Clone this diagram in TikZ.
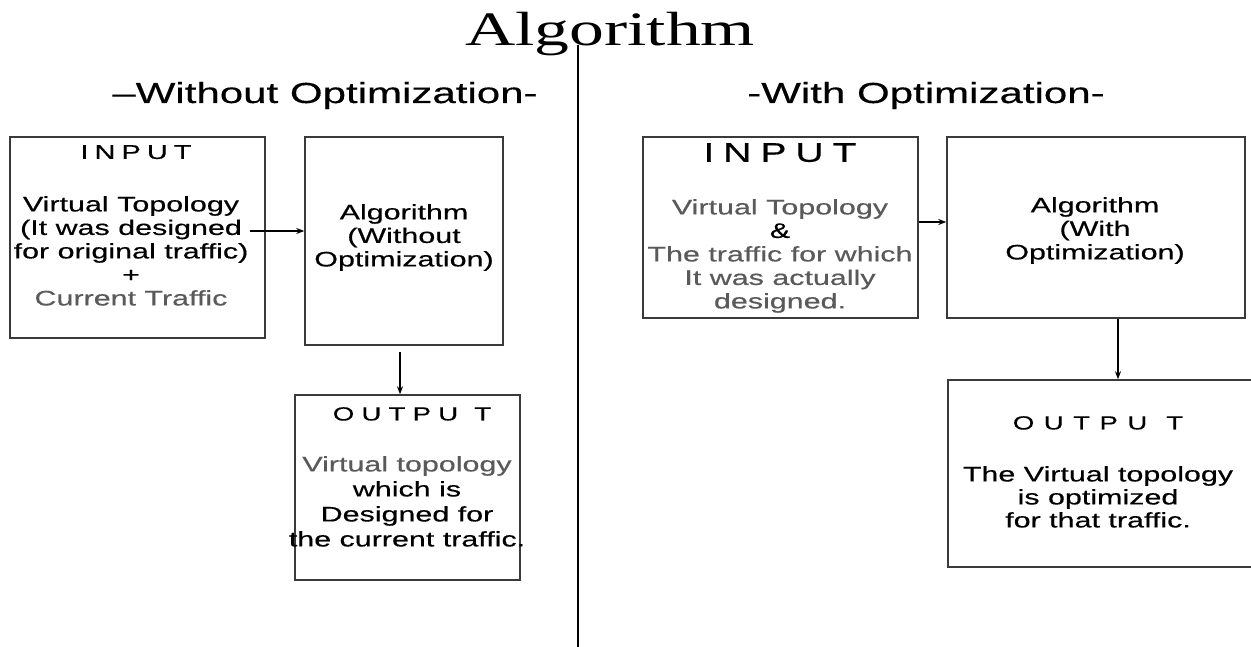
\documentclass[tikz,border=0pt]{standalone}
\usepackage{fontspec}
\setmainfont{Liberation Sans}
\newfontfamily\bodyf[FakeStretch=1.45,FakeBold=0.4]{Liberation Sans}
\newfontfamily\titlef[FakeStretch=1.45]{Liberation Serif}
\usetikzlibrary{arrows.meta}
\definecolor{txtgray}{HTML}{5A5A5A}
\definecolor{boxline}{HTML}{3A3A3A}
\begin{document}
\begin{tikzpicture}[x=1pt,y=-1pt,
  box/.style={draw=boxline,line width=1.5pt,inner sep=0pt,rectangle},
  txt/.style={align=center,inner sep=0pt,anchor=north,font=\bodyf\fontsize{21}{23.5}\selectfont},
  head/.style={inner sep=0pt,anchor=base,font=\bodyf\fontsize{29}{31}\selectfont},
  lab/.style={inner sep=0pt,anchor=north,font=\bodyf\fontsize{19}{20}\selectfont},
  arr/.style={line width=1.3pt,-{Stealth[length=8pt,width=6pt]}}]
\useasboundingbox (0,0) rectangle (1251,647);
\fill[white] (0,0) rectangle (1251,647);

% titles
\node[inner sep=0pt,anchor=base,font=\titlef\fontsize{48}{50}\selectfont] (title) at (610,46) {Algorithm};
\node[head] (hL) at (325,103) {–Without Optimization-};
\node[head] (hR) at (926,103) {-With Optimization-};

% divider
\coordinate (divtop) at (578,45);
\coordinate (divbot) at (578,647);
\draw[line width=1.5pt] (divtop) -- (divbot);

% boxes
\node[box,minimum width=255pt,minimum height=201pt] (inL) at (137.5,237.5) {};
\node[box,minimum width=198pt,minimum height=208pt] (algL) at (404,241) {};
\node[box,minimum width=225pt,minimum height=185pt] (outL) at (407.5,487.5) {};
\node[box,minimum width=275pt,minimum height=181pt] (inR) at (780.5,227.5) {};
\node[box,minimum width=298pt,minimum height=181pt] (algR) at (1096,227.5) {};
\node[box,minimum width=304pt,minimum height=187pt] (outR) at (1100,473.5) {};

% left input
\node[lab,font=\bodyf\fontsize{20}{21}\selectfont] (inLlab) at (136,145) {I\hspace{0.3em}N\hspace{0.3em}P\hspace{0.3em}U\hspace{0.3em}T};
\node[txt] (inLtxt) at (131,196) {Virtual Topology\\(It was designed\\for original traffic)\\+\\\textcolor{txtgray}{Current Traffic}};

% left algorithm
\node[txt] (algLtxt) at (404,204) {Algorithm\\(Without\\Optimization)};

% left output
\node[lab] (outLlab) at (412,407) {O\hspace{0.38em}U\hspace{0.38em}T\hspace{0.38em}P\hspace{0.38em}U\hspace{0.85em}T};
\node[txt,font=\bodyf\fontsize{21}{25}\selectfont] (outLtxt) at (407,456) {\textcolor{txtgray}{Virtual topology}\\which is\\Designed for\\the current traffic.};

% right input
\node[lab,font=\bodyf\fontsize{27}{29}\selectfont] (inRlab) at (780,143) {I\hspace{0.33em}N\hspace{0.33em}P\hspace{0.33em}U\hspace{0.33em}T};
\node[txt,font=\bodyf\fontsize{21}{23.5}\selectfont,text=txtgray] (inRtxt) at (780,199) {Virtual Topology\\\textcolor{black}{\&}\\The traffic for which\\It was actually\\designed.};

% right algorithm
\node[txt] (algRtxt) at (1095,197) {Algorithm\\(With\\Optimization)};

% right output
\node[lab] (outRlab) at (1098,416) {O\hspace{0.5em}U\hspace{0.5em}T\hspace{0.5em}P\hspace{0.5em}U\hspace{1em}T};
\node[txt,font=\bodyf\fontsize{21}{23}\selectfont] (outRtxt) at (1098,466) {The Virtual topology\\is optimized\\for that traffic.};

% connectors
\coordinate (aLstart) at (250,231);
\draw[arr] (aLstart) -- (aLstart -| algL.west);
\coordinate (dLstart) at (400,352);
\draw[arr] (dLstart) -- (dLstart |- outL.north);
\draw[arr] (inR.east |- 0,222) -- (algR.west |- 0,222);
\draw[arr] (algR.south -| 1118,0) -- (outR.north -| 1118,0);
\end{tikzpicture}
\end{document}
